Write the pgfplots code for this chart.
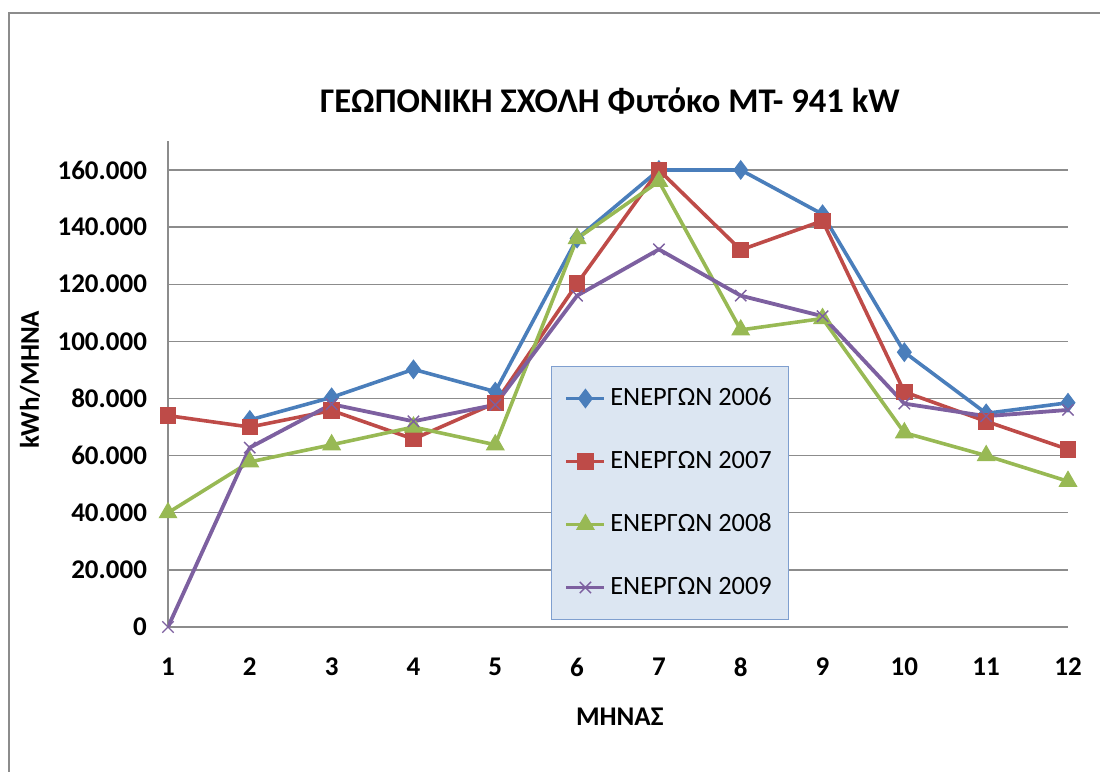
\documentclass[border=0pt]{standalone}
\usepackage{fontspec}
\setmainfont{Carlito}
\usepackage{pgfplots}
\pgfplotsset{compat=1.18}
\definecolor{cA}{HTML}{4A7EBB}
\definecolor{cB}{HTML}{BE4B48}
\definecolor{cC}{HTML}{98B954}
\definecolor{cD}{HTML}{7D60A0}
\definecolor{gridc}{HTML}{8C8C8C}
\definecolor{legfill}{HTML}{DCE6F2}
\definecolor{legdraw}{HTML}{7F9FCF}
\begin{document}
\begin{tikzpicture}
\useasboundingbox (0,0) rectangle (550pt,386pt);
\draw[gridc, line width=0.8pt] (4.5pt,-2pt) -- (4.5pt,379.5pt) -- (552pt,379.5pt);
\begin{axis}[
  at={(84pt,72.5pt)}, anchor=south west,
  scale only axis, width=450pt, height=242.8pt,
  xmin=1, xmax=12, ymin=0, ymax=170000,
  xtick={1,...,12}, ytick={0,20000,...,160000},
  xticklabels={1,2,3,4,5,6,7,8,9,10,11,12},
  yticklabels={0,20.000,40.000,60.000,80.000,100.000,120.000,140.000,160.000},
  scaled y ticks=false,
  tick style={draw=none},
  font=\fontsize{13.5}{16}\selectfont\bfseries,
  ticklabel style={font=\fontsize{13.5}{16}\selectfont\bfseries},
  xticklabel shift=12pt, yticklabel shift=7pt,
  ymajorgrids, grid style={gridc, line width=0.7pt},
  axis x line*=bottom,
  x axis line style={draw=none, -},
  axis y line*=left,
  y axis line style={gridc, line width=0.7pt, -},
  title={ΓΕΩΠΟΝΙΚΗ ΣΧΟΛΗ Φυτόκο ΜΤ- 941 kW},
  title style={font=\fontsize{17.3}{20}\selectfont\bfseries, at={(axis description cs:0.491,1.058)}, anchor=center},
  xlabel={ΜΗΝΑΣ},
  xlabel style={at={(axis description cs:0.502,-0.185)}, anchor=center},
  ylabel={kWh/ΜΗΝΑ},
  ylabel style={at={(axis description cs:-0.1533,0.509)}, anchor=center},
  legend cell align=left,
  legend style={at={(rel axis cs:0.4256,0.5375)}, anchor=north west,
    fill=legfill, draw=legdraw, line width=0.5pt,
    font=\fontsize{13.2}{16}\selectfont\mdseries,
    nodes={inner xsep=2pt, inner ysep=3pt, text height=10pt, text depth=3pt},
    inner xsep=6.5pt, inner ysep=6.5pt, row sep=12.5pt},
  legend image code/.code={\draw[mark repeat=2,mark phase=2] plot coordinates {(0pt,0pt) (9.5pt,0pt) (19pt,0pt)};},
]
\addplot[cA, line width=1.8pt, mark=diamond*, mark size=4.6pt, mark options={solid, line width=0.5pt}] coordinates {
(2,72500) (3,80400) (4,90200) (5,82400) (6,136000) (7,160000) (8,160000) (9,144500) (10,96200) (11,74800) (12,78500)};
\addlegendentry{ΕΝΕΡΓΩΝ 2006}
\addplot[cB, line width=1.8pt, mark=square*, mark size=3.9pt, mark options={solid, line width=0.5pt}] coordinates {
(1,74000) (2,70000) (3,75800) (4,65800) (5,78400) (6,120200) (7,160000) (8,132000) (9,142200) (10,82300) (11,72000) (12,62200)};
\addlegendentry{ΕΝΕΡΓΩΝ 2007}
\addplot[cC, line width=1.8pt, mark=triangle*, mark size=5pt, mark options={solid, line width=0.5pt}] coordinates {
(1,40000) (2,57800) (3,63800) (4,70000) (5,63800) (6,136000) (7,156000) (8,104000) (9,108000) (10,68000) (11,60000) (12,51000)};
\addlegendentry{ΕΝΕΡΓΩΝ 2008}
\addplot[cD, line width=1.9pt, mark=x, mark size=4pt, mark options={solid, line width=0.7pt}] coordinates {
(1,0) (2,62800) (3,78000) (4,72000) (5,77800) (6,116000) (7,132200) (8,116000) (9,108800) (10,78200) (11,73800) (12,76000)};
\addlegendentry{ΕΝΕΡΓΩΝ 2009}
\end{axis}
\end{tikzpicture}
\end{document}
